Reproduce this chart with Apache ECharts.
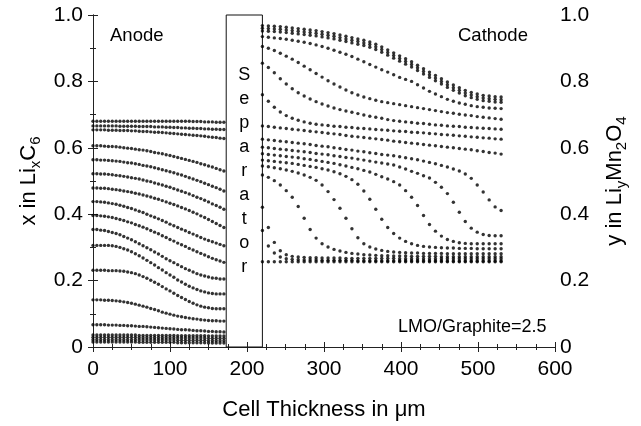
<!DOCTYPE html>
<html><head><meta charset="utf-8">
<script src="https://cdn.jsdelivr.net/npm/echarts/dist/echarts.min.js"></script>
<style>html,body{margin:0;padding:0;background:#fff}#c{width:641px;height:426px}</style>
</head><body><div id="c"></div>
<script>
// ---- axis ticks ----
const xTicks = [0, 100, 200, 300, 400, 500, 600];
const yTicks = [0, 0.2, 0.4, 0.6, 0.8, 1.0];
const separatorStart = 173;
const separatorEnd = 220;

// ---- anode grid (um) ----
const anodeX = [0,5,10,15,20,25,30,35,40,45,50,55,60,65,70,75,80,85,90,95,100,105,110,115,120,125,130,135,140,145,150,155,160,165,170];
// ---- cathode grid (um) ----
const cathodeX = [220,227.75,235.5,243.25,251,258.75,266.5,274.25,282,289.75,297.5,305.25,313,320.75,328.5,336.25,344,351.75,359.5,367.25,375,382.75,390.5,398.25,406,413.75,421.5,429.25,437,444.75,452.5,460.25,468,475.75,483.5,491.25,499,506.75,514.5,522.25,530];

// ---- anode profiles x in LixC6 ----
const anode01 = [0.680,0.680,0.680,0.680,0.680,0.680,0.680,0.680,0.680,0.680,0.680,0.680,0.680,0.680,0.680,0.680,0.680,0.680,0.680,0.680,0.680,0.680,0.680,0.680,0.680,0.680,0.679,0.679,0.679,0.678,0.678,0.678,0.677,0.677,0.677];
const anode02 = [0.666,0.666,0.666,0.666,0.666,0.666,0.666,0.665,0.665,0.665,0.665,0.665,0.664,0.664,0.664,0.664,0.663,0.663,0.663,0.662,0.662,0.661,0.661,0.660,0.660,0.659,0.659,0.658,0.658,0.657,0.657,0.656,0.656,0.655,0.655];
const anode03 = [0.654,0.654,0.654,0.654,0.653,0.653,0.653,0.652,0.652,0.652,0.651,0.651,0.650,0.649,0.649,0.648,0.647,0.647,0.646,0.645,0.644,0.643,0.642,0.641,0.640,0.639,0.638,0.637,0.636,0.635,0.633,0.632,0.631,0.629,0.628];
const anode04 = [0.606,0.606,0.606,0.605,0.604,0.604,0.603,0.602,0.600,0.599,0.598,0.596,0.594,0.593,0.591,0.589,0.586,0.584,0.582,0.579,0.577,0.574,0.571,0.568,0.565,0.562,0.559,0.556,0.552,0.549,0.545,0.542,0.538,0.534,0.530];
const anode05 = [0.564,0.564,0.563,0.563,0.562,0.561,0.560,0.559,0.557,0.555,0.554,0.552,0.550,0.547,0.545,0.543,0.540,0.537,0.534,0.531,0.528,0.525,0.521,0.518,0.514,0.510,0.506,0.502,0.498,0.493,0.489,0.484,0.480,0.475,0.470];
const anode06 = [0.522,0.522,0.521,0.521,0.520,0.519,0.517,0.516,0.514,0.512,0.510,0.508,0.506,0.503,0.500,0.498,0.494,0.491,0.488,0.484,0.481,0.477,0.473,0.469,0.465,0.461,0.456,0.451,0.447,0.442,0.437,0.431,0.426,0.421,0.415];
const anode07 = [0.479,0.479,0.478,0.478,0.477,0.475,0.474,0.472,0.470,0.468,0.466,0.463,0.461,0.458,0.455,0.452,0.448,0.445,0.441,0.437,0.433,0.429,0.425,0.420,0.416,0.411,0.406,0.401,0.395,0.390,0.384,0.378,0.372,0.366,0.360];
const anode08 = [0.438,0.438,0.437,0.436,0.434,0.432,0.430,0.427,0.424,0.420,0.417,0.413,0.409,0.405,0.400,0.395,0.391,0.386,0.381,0.376,0.370,0.365,0.360,0.355,0.350,0.345,0.340,0.335,0.330,0.325,0.321,0.317,0.313,0.309,0.305];
const anode09 = [0.396,0.396,0.395,0.394,0.392,0.390,0.387,0.384,0.381,0.377,0.374,0.369,0.365,0.361,0.356,0.351,0.346,0.341,0.335,0.330,0.324,0.319,0.313,0.308,0.303,0.297,0.292,0.287,0.282,0.277,0.272,0.267,0.263,0.259,0.255];
const anode10 = [0.354,0.354,0.352,0.351,0.348,0.345,0.342,0.338,0.333,0.328,0.323,0.317,0.311,0.305,0.299,0.293,0.286,0.280,0.273,0.266,0.260,0.254,0.248,0.242,0.236,0.231,0.226,0.221,0.217,0.214,0.211,0.208,0.207,0.205,0.205];
const anode11 = [0.306,0.306,0.306,0.306,0.306,0.305,0.303,0.300,0.296,0.292,0.287,0.281,0.275,0.268,0.261,0.254,0.247,0.239,0.232,0.224,0.217,0.210,0.202,0.196,0.189,0.183,0.178,0.173,0.169,0.166,0.163,0.161,0.160,0.160,0.160];
const anode12 = [0.231,0.231,0.231,0.231,0.230,0.230,0.230,0.229,0.228,0.226,0.224,0.221,0.217,0.212,0.207,0.201,0.195,0.189,0.182,0.175,0.169,0.162,0.155,0.149,0.143,0.137,0.132,0.127,0.123,0.120,0.118,0.116,0.115,0.115,0.115];
const anode13 = [0.142,0.142,0.142,0.141,0.141,0.140,0.139,0.138,0.136,0.134,0.132,0.129,0.126,0.123,0.120,0.116,0.113,0.109,0.105,0.102,0.099,0.096,0.093,0.091,0.089,0.087,0.085,0.084,0.082,0.081,0.080,0.079,0.079,0.078,0.078];
const anode14 = [0.067,0.067,0.067,0.067,0.066,0.066,0.066,0.065,0.065,0.064,0.064,0.063,0.062,0.062,0.061,0.060,0.059,0.058,0.057,0.056,0.055,0.054,0.053,0.052,0.052,0.051,0.050,0.049,0.049,0.048,0.047,0.047,0.046,0.046,0.045];
const anode15 = [0.036,0.036,0.036,0.036,0.036,0.036,0.036,0.036,0.036,0.036,0.036,0.036,0.035,0.035,0.035,0.035,0.035,0.035,0.035,0.035,0.035,0.035,0.034,0.034,0.034,0.034,0.034,0.034,0.034,0.034,0.033,0.033,0.033,0.033,0.033];
const anode16 = [0.029,0.029,0.029,0.029,0.029,0.029,0.029,0.029,0.029,0.029,0.029,0.029,0.028,0.028,0.028,0.028,0.028,0.028,0.028,0.028,0.028,0.028,0.027,0.027,0.027,0.027,0.027,0.027,0.027,0.027,0.026,0.026,0.026,0.026,0.026];
const anode17 = [0.022,0.022,0.022,0.022,0.022,0.022,0.022,0.022,0.022,0.022,0.022,0.022,0.021,0.021,0.021,0.021,0.021,0.021,0.021,0.021,0.021,0.021,0.020,0.020,0.020,0.020,0.020,0.020,0.020,0.020,0.019,0.019,0.019,0.019,0.019];
const anode18 = [0.015,0.015,0.015,0.015,0.015,0.015,0.015,0.015,0.015,0.015,0.015,0.015,0.014,0.014,0.014,0.014,0.014,0.014,0.014,0.014,0.014,0.014,0.013,0.013,0.013,0.013,0.013,0.013,0.013,0.013,0.012,0.012,0.012,0.012,0.012];

// ---- cathode profiles y in LiyMn2O4 ----
const cathode00 = [0.257,0.257,0.257,0.257,0.257,0.257,0.257,0.257,0.257,0.257,0.257,0.257,0.257,0.257,0.257,0.257,0.257,0.257,0.257,0.257,0.257,0.257,0.257,0.257,0.257,0.257,0.257,0.257,0.257,0.257,0.257,0.257,0.257,0.257,0.257,0.257,0.257,0.257,0.257,0.257,0.257];
const cathode01 = [0.351,0.304,0.283,0.271,0.266,0.264,0.263,0.262,0.262,0.262,0.261,0.261,0.261,0.261,0.261,0.261,0.260,0.260,0.260,0.260,0.260,0.260,0.260,0.260,0.260,0.260,0.260,0.260,0.260,0.260,0.260,0.259,0.259,0.259,0.259,0.259,0.259,0.259,0.259,0.259,0.259];
const cathode02 = [0.421,0.360,0.315,0.290,0.278,0.273,0.271,0.270,0.269,0.269,0.268,0.268,0.268,0.268,0.267,0.267,0.267,0.267,0.267,0.267,0.267,0.267,0.267,0.266,0.266,0.266,0.266,0.266,0.266,0.266,0.266,0.266,0.266,0.266,0.266,0.266,0.266,0.266,0.266,0.266,0.266];
const cathode03 = [0.518,0.511,0.501,0.488,0.471,0.451,0.423,0.388,0.354,0.328,0.311,0.301,0.294,0.289,0.285,0.282,0.280,0.278,0.277,0.276,0.275,0.275,0.274,0.274,0.274,0.273,0.273,0.273,0.273,0.273,0.272,0.272,0.272,0.272,0.272,0.272,0.272,0.272,0.272,0.272,0.272];
const cathode04 = [0.545,0.543,0.540,0.537,0.533,0.529,0.524,0.518,0.511,0.502,0.488,0.468,0.444,0.418,0.388,0.356,0.329,0.311,0.301,0.295,0.291,0.288,0.286,0.285,0.284,0.283,0.283,0.282,0.282,0.282,0.282,0.281,0.281,0.281,0.281,0.281,0.281,0.281,0.281,0.281,0.281];
const cathode05 = [0.563,0.561,0.559,0.557,0.555,0.553,0.550,0.547,0.544,0.541,0.537,0.533,0.528,0.522,0.514,0.504,0.490,0.470,0.445,0.415,0.385,0.360,0.342,0.328,0.318,0.311,0.306,0.303,0.301,0.300,0.299,0.298,0.298,0.297,0.297,0.297,0.296,0.296,0.296,0.296,0.296];
const cathode06 = [0.582,0.580,0.578,0.576,0.574,0.572,0.570,0.567,0.565,0.562,0.559,0.556,0.553,0.549,0.545,0.541,0.537,0.532,0.527,0.520,0.513,0.506,0.498,0.488,0.471,0.451,0.426,0.396,0.369,0.349,0.334,0.324,0.318,0.314,0.312,0.311,0.311,0.311,0.311,0.311,0.311];
const cathode07 = [0.602,0.600,0.598,0.596,0.594,0.592,0.590,0.588,0.586,0.583,0.581,0.579,0.576,0.574,0.571,0.569,0.566,0.563,0.560,0.557,0.554,0.551,0.548,0.542,0.536,0.529,0.523,0.516,0.509,0.496,0.481,0.462,0.436,0.406,0.378,0.358,0.346,0.339,0.336,0.335,0.335];
const cathode08 = [0.626,0.624,0.622,0.620,0.618,0.616,0.614,0.612,0.610,0.607,0.605,0.603,0.600,0.598,0.595,0.593,0.590,0.588,0.585,0.583,0.580,0.578,0.576,0.573,0.570,0.567,0.564,0.560,0.556,0.552,0.547,0.542,0.536,0.530,0.521,0.508,0.488,0.467,0.443,0.422,0.411];
const cathode09 = [0.666,0.664,0.662,0.660,0.658,0.656,0.654,0.652,0.650,0.648,0.646,0.644,0.642,0.640,0.637,0.635,0.633,0.631,0.629,0.627,0.625,0.623,0.620,0.618,0.616,0.614,0.612,0.610,0.608,0.606,0.604,0.602,0.600,0.598,0.596,0.594,0.591,0.589,0.586,0.584,0.581];
const cathode10 = [0.760,0.740,0.722,0.708,0.697,0.689,0.683,0.678,0.674,0.671,0.669,0.667,0.665,0.664,0.662,0.661,0.659,0.658,0.657,0.655,0.654,0.653,0.651,0.650,0.649,0.647,0.646,0.645,0.643,0.642,0.640,0.639,0.638,0.636,0.635,0.633,0.632,0.630,0.629,0.627,0.626];
const cathode11 = [0.855,0.842,0.826,0.808,0.792,0.778,0.766,0.756,0.747,0.739,0.732,0.726,0.720,0.715,0.711,0.707,0.703,0.699,0.695,0.692,0.689,0.685,0.682,0.680,0.678,0.676,0.674,0.673,0.671,0.669,0.668,0.666,0.665,0.664,0.662,0.661,0.660,0.659,0.658,0.657,0.656];
const cathode12 = [0.905,0.900,0.893,0.885,0.876,0.867,0.857,0.846,0.835,0.824,0.813,0.802,0.792,0.783,0.774,0.766,0.759,0.753,0.748,0.743,0.739,0.736,0.733,0.730,0.727,0.724,0.721,0.718,0.715,0.712,0.709,0.706,0.704,0.701,0.699,0.697,0.694,0.692,0.690,0.688,0.686];
const cathode13 = [0.935,0.933,0.931,0.929,0.927,0.924,0.921,0.918,0.914,0.910,0.905,0.900,0.894,0.888,0.882,0.875,0.867,0.859,0.851,0.843,0.835,0.828,0.820,0.812,0.806,0.800,0.790,0.780,0.770,0.762,0.754,0.746,0.740,0.735,0.731,0.727,0.724,0.722,0.720,0.719,0.718];
const cathode14 = [0.952,0.951,0.950,0.949,0.947,0.945,0.943,0.941,0.939,0.937,0.934,0.931,0.928,0.924,0.920,0.916,0.912,0.908,0.903,0.896,0.888,0.879,0.870,0.861,0.852,0.843,0.833,0.822,0.812,0.802,0.792,0.782,0.773,0.765,0.757,0.751,0.746,0.742,0.740,0.738,0.737];
const cathode15 = [0.960,0.959,0.958,0.957,0.955,0.953,0.951,0.949,0.947,0.945,0.942,0.939,0.936,0.932,0.928,0.924,0.920,0.916,0.911,0.904,0.896,0.887,0.878,0.869,0.860,0.851,0.841,0.830,0.820,0.810,0.800,0.790,0.781,0.773,0.765,0.759,0.754,0.750,0.748,0.746,0.745];
const cathode16 = [0.968,0.967,0.966,0.965,0.963,0.961,0.959,0.957,0.955,0.953,0.950,0.947,0.944,0.940,0.936,0.932,0.928,0.924,0.919,0.912,0.904,0.895,0.886,0.877,0.868,0.859,0.849,0.838,0.828,0.818,0.808,0.798,0.789,0.781,0.773,0.767,0.762,0.758,0.756,0.754,0.753];

const anodeCurves = [anode01,anode02,anode03,anode04,anode05,anode06,anode07,anode08,anode09,anode10,anode11,anode12,anode13,anode14,anode15,anode16,anode17,anode18];
const cathodeCurves = [cathode00,cathode01,cathode02,cathode03,cathode04,cathode05,cathode06,cathode07,cathode08,cathode09,cathode10,cathode11,cathode12,cathode13,cathode14,cathode15,cathode16];

// ---- build ----
const FONT = 'Liberation Sans, Arial, Helvetica, sans-serif';
const chart = echarts.init(document.getElementById('c'), null, {renderer: 'canvas'});

function dotSeries(xs, ys, yIdx) {
  return {
    type: 'scatter', xAxisIndex: 0, yAxisIndex: yIdx,
    symbol: 'circle', symbolSize: 3.4, silent: true, animation: false,
    itemStyle: {color: '#000'},
    data: xs.map((x, i) => [x, ys[i]])
  };
}
const series = [];
anodeCurves.forEach(c => series.push(dotSeries(anodeX, c, 0)));
cathodeCurves.forEach(c => series.push(dotSeries(cathodeX, c, 1)));
series[0].markArea = {
  silent: true,
  itemStyle: {color: 'rgba(0,0,0,0)', borderColor: '#111', borderWidth: 1},
  label: {show: true, position: 'inside', formatter: 'S\ne\np\na\nr\na\nt\no\nr',
          fontSize: 18, lineHeight: 24, color: '#000', fontFamily: FONT, offset: [0, -10]},
  data: [[{xAxis: separatorStart, yAxis: 0}, {xAxis: separatorEnd, yAxis: 1}]]
};

const axisLine = {show: true, lineStyle: {color: '#222', width: 1}};
const tickStyle = {inside: true, length: 5, lineStyle: {color: '#222'}};
const yFmt = v => (Math.abs(v) < 1e-9 ? '0' : v.toFixed(1));
const yLabel = {color: '#000', fontSize: 21, fontFamily: FONT, formatter: yFmt, customValues: yTicks};
const richTitle = {
  n: {fontSize: 22, lineHeight: 28, fontFamily: FONT, color: '#000'},
  s: {fontSize: 15, lineHeight: 12, verticalAlign: 'bottom', fontFamily: FONT, color: '#000'}
};

chart.setOption({
  animation: false,
  backgroundColor: '#fff',
  grid: {left: 93, right: 86, top: 15, bottom: 77},
  xAxis: [
    {type: 'value', position: 'bottom', min: 0, max: 600, interval: 100,
     axisLine, splitLine: {show: false}, axisTick: tickStyle,
     minorTick: {show: true, splitNumber: 4, length: 3, lineStyle: {color: '#222'}},
     axisLabel: {color: '#000', fontSize: 21, fontFamily: FONT, margin: 12, customValues: xTicks},
     name: 'Cell Thickness in \u03bcm', nameLocation: 'middle', nameGap: 52,
     nameTextStyle: {color: '#000', fontSize: 22, fontFamily: FONT}},
    {type: 'value', position: 'top', min: 0, max: 600, interval: 100,
     axisLine, splitLine: {show: false}, axisLabel: {show: false}, axisTick: tickStyle,
     minorTick: {show: true, splitNumber: 4, length: 3, lineStyle: {color: '#222'}}}
  ],
  yAxis: [
    {type: 'value', position: 'left', min: 0, max: 1, interval: 0.2,
     axisLine, splitLine: {show: false}, axisTick: tickStyle,
     minorTick: {show: true, splitNumber: 2, length: 3, lineStyle: {color: '#222'}},
     axisLabel: Object.assign({margin: 10}, yLabel),
     name: '{n|x in Li}{s|x}{n|C}{s|6}', nameLocation: 'middle', nameRotate: 90, nameGap: 50,
     nameTextStyle: {color: '#000', fontFamily: FONT, rich: richTitle}},
    {type: 'value', position: 'right', min: 0, max: 1, interval: 0.2,
     axisLine, splitLine: {show: false}, axisTick: tickStyle,
     minorTick: {show: true, splitNumber: 2, length: 3, lineStyle: {color: '#222'}},
     axisLabel: Object.assign({margin: 5}, yLabel),
     name: '{n|y in Li}{s|y}{n|Mn}{s|2}{n|O}{s|4}', nameLocation: 'middle', nameRotate: 90, nameGap: 46,
     nameTextStyle: {color: '#000', fontFamily: FONT, rich: richTitle}}
  ],
  graphic: [
    {type: 'text', left: 110, top: 26, style: {text: 'Anode', font: '18.5px ' + FONT, fill: '#000'}},
    {type: 'text', left: 458, top: 26, style: {text: 'Cathode', font: '18.5px ' + FONT, fill: '#000'}},
    {type: 'text', left: 398, top: 318, style: {text: 'LMO/Graphite=2.5', font: '18px ' + FONT, fill: '#000'}}
  ],
  series
});
</script></body></html>
